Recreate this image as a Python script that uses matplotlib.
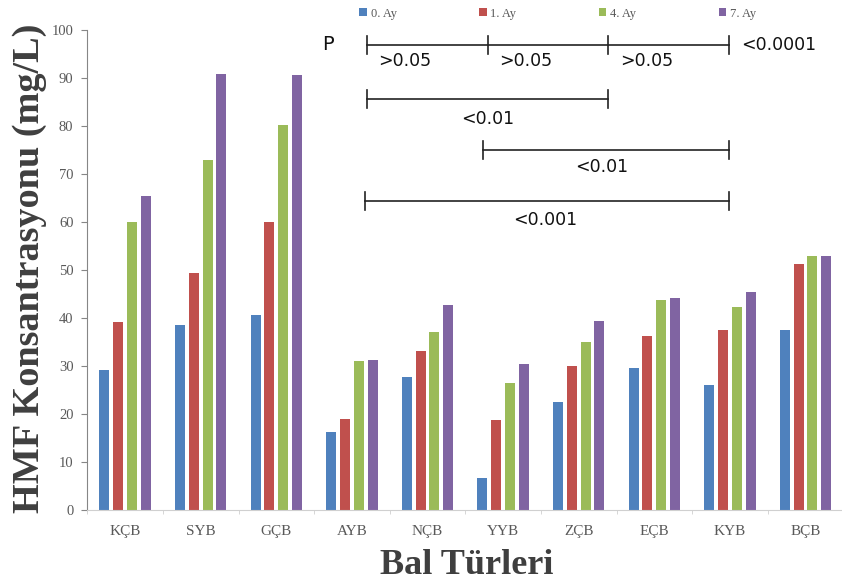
import numpy as np
import matplotlib.pyplot as plt

# Honey types and HMF concentration (mg/L) per storage month
bal_turleri = ["KÇB", "SYB", "GÇB", "AYB", "NÇB", "YYB", "ZÇB", "EÇB", "KYB", "BÇB"]
ay_0 = [29.2, 38.5, 40.6, 16.3, 27.6, 6.6, 22.5, 29.5, 26.1, 37.5]
ay_1 = [39.2, 49.4, 60.0, 18.9, 33.2, 18.7, 30.0, 36.3, 37.5, 51.3]
ay_4 = [60.0, 72.9, 80.2, 31.0, 37.0, 26.4, 34.9, 43.8, 42.3, 53.0]
ay_7 = [65.4, 90.8, 90.6, 31.3, 42.8, 30.5, 39.4, 44.2, 45.5, 53.0]
seri_adlari = ["0. Ay", "1. Ay", "4. Ay", "7. Ay"]
renkler = ["#4F81BD", "#C0504D", "#9BBB59", "#8064A2"]

# p-value brackets: (x start, x end, y) and where the end ticks sit
p_cizgileri = [
    (3.2, 7.99, 96.9),
    (3.2, 6.39, 85.6),
    (4.73, 7.99, 75.0),
    (3.17, 7.99, 64.4),
]
p_uclari = [[3.2, 4.8, 6.39, 7.99], [3.2, 6.39], [4.73, 7.99], [3.17, 7.99]]
p_etiketleri = [
    (3.7, 93.5, ">0.05"),
    (5.3, 93.5, ">0.05"),
    (6.9, 93.5, ">0.05"),
    (8.15, 96.9, "<0.0001"),
    (4.8, 81.5, "<0.01"),
    (6.3, 71.5, "<0.01"),
    (5.55, 60.5, "<0.001"),
]

fig = plt.figure(figsize=(8.42, 5.88), dpi=100)
ax = fig.add_axes([0.1037, 0.1327, 0.8979, 0.8163])

x = np.arange(len(bal_turleri))
genislik = 0.132
aralik = 0.183
for i, (deger, ad, renk) in enumerate(zip([ay_0, ay_1, ay_4, ay_7], seri_adlari, renkler)):
    ax.bar(x + (i - 1.5) * aralik, deger, width=genislik, color=renk, label=ad, zorder=2)

ax.set_xlim(-0.5, len(bal_turleri) - 0.5)
ax.set_ylim(0, 100)
ax.set_yticks(range(0, 101, 10))
ax.set_xticks(x)
ax.set_xticklabels(bal_turleri)
ax.set_xticks(np.arange(-0.5, len(bal_turleri), 1), minor=True)

for s in ["top", "right"]:
    ax.spines[s].set_visible(False)
ax.spines["left"].set_color("#868686")
ax.spines["bottom"].set_color("#d0d0d0")
ax.tick_params(axis="y", direction="out", length=4, color="#868686", labelsize=10.5,
               labelcolor="#595959", pad=6)
ax.tick_params(axis="x", which="major", length=0, labelsize=11, labelcolor="#595959", pad=11)
ax.tick_params(axis="x", which="minor", length=3, color="#d0d0d0")
for lbl in ax.get_xticklabels() + ax.get_yticklabels():
    lbl.set_family("Liberation Serif")

leg = ax.legend(loc="upper left", bbox_to_anchor=(0.345, 1.07), ncol=4, frameon=False,
                prop={"family": "Liberation Serif", "size": 9}, handlelength=0.6,
                handleheight=0.6, handletextpad=0.3, columnspacing=6.6, labelcolor="#595959")

# significance brackets
for (x0, x1, y), uclar in zip(p_cizgileri, p_uclari):
    ax.plot([x0, x1], [y, y], color="#222222", lw=1.2, clip_on=False, zorder=3)
    for u in uclar:
        ax.plot([u, u], [y - 1.8, y + 1.8], color="#222222", lw=1.2, clip_on=False, zorder=3)
for lx, ly, metin in p_etiketleri:
    ha = "left" if metin == "<0.0001" else "center"
    ax.text(lx, ly, metin, ha=ha, va="center", fontsize=12.5, family="DejaVu Sans", color="#111111")
ax.text(2.68, 96.9, "P", ha="center", va="center", fontsize=14, family="DejaVu Sans",
        color="#111111")

fig.text(30 / 842, 1 - 268 / 588, "HMF Konsantrasyonu (mg/L)", rotation=90, ha="center",
         va="center", fontsize=27.5, fontweight="bold", family="Liberation Serif", color="#3f3f3f")
fig.text(467 / 842, 1 - 565 / 588, "Bal Türleri", ha="center", va="center", fontsize=26,
         fontweight="bold", family="Liberation Serif", color="#3f3f3f")

fig.savefig("out.png", dpi=100)
